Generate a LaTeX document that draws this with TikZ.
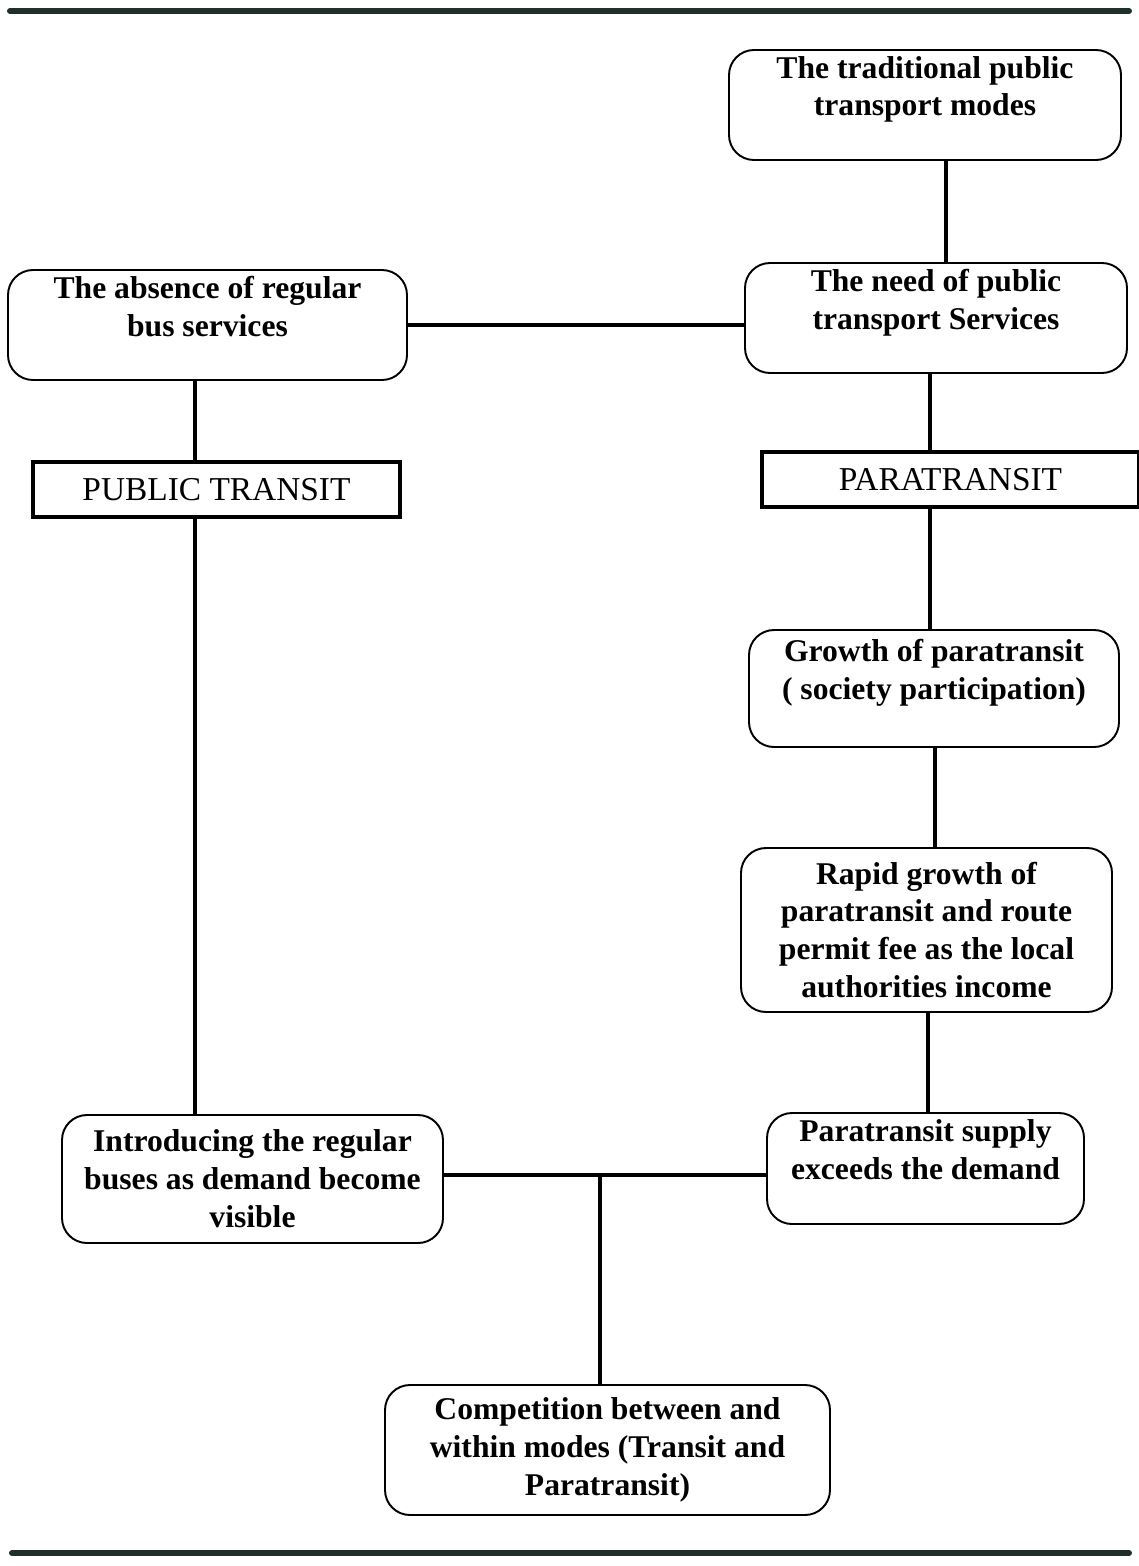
\documentclass[tikz,border=0pt]{standalone}
\usepackage{fontspec}
\setmainfont{Liberation Serif}
\usetikzlibrary{positioning}

\definecolor{ruleink}{RGB}{30,48,40}

\tikzset{
	stage/.style = {draw, rounded corners=0.5cm, line width=1.1pt, align=center,
		font=\fontsize{18}{21.6}\selectfont\bfseries, inner sep=0pt},
	modebox/.style = {draw, line width=2.2pt, inner sep=0pt,
		font=\fontsize{19}{22}\selectfont},
	link/.style = {line width=1.8pt},
	rule/.style = {line width=3.4pt, line cap=round, ruleink}
}

\begin{document}
\begin{tikzpicture}
	\useasboundingbox (0,0) rectangle (22.78,-31.32);
	
	% top and bottom rules
	\draw [rule] (0.2,-0.22) -- (22.58,-0.22);
	\draw [rule] (0.24,-31.06) -- (22.58,-31.06);
	
	% the boxes
	\node [stage, minimum width=7.84cm, minimum height=2.2cm] (trad) at (18.5,-2.1) {The traditional public\\transport modes\\~};
	\node [stage, minimum width=7.64cm, minimum height=2.2cm] (need) at (18.72,-6.36) {The need of public\\transport Services\\~};
	\node [stage, minimum width=7.98cm, minimum height=2.2cm] (absence) at (4.15,-6.5) {The absence of regular\\bus services\\~};
	\node [modebox, minimum width=7.34cm, minimum height=1.1cm] (pub) at (4.33,-9.79) {PUBLIC TRANSIT};
	\node [modebox, minimum width=7.54cm, minimum height=1.1cm] (para) at (19.01,-9.59) {PARATRANSIT};
	\node [stage, minimum width=7.4cm, minimum height=2.34cm] (growth) at (18.68,-13.77) {Growth of paratransit\\( society participation)\\~};
	\node [stage, minimum width=7.42cm, minimum height=3.28cm] (rapid) at (18.53,-18.6) {Rapid growth of\\paratransit and route\\permit fee as the local\\authorities income};
	\node [stage, minimum width=6.34cm, minimum height=2.22cm] (supply) at (18.51,-23.37) {Paratransit supply\\exceeds the demand\\~};
	\node [stage, minimum width=7.62cm, minimum height=2.56cm] (intro) at (5.05,-23.58) {Introducing the regular\\buses as demand become\\visible};
	\node [stage, minimum width=8.9cm, minimum height=2.6cm] (comp) at (12.15,-29.0) {Competition between and\\within modes (Transit and\\Paratransit)};
	
	% where the lines run
	\coordinate (lx) at (3.9,0);
	\coordinate (rxa) at (18.92,0);
	\coordinate (rxb) at (18.6,0);
	\coordinate (rxc) at (18.7,0);
	\coordinate (rxd) at (18.56,0);
	\coordinate (hy) at (0,-23.5);
	\coordinate (jn) at (12.0,-23.5);
	
	% connect them
	\draw [link] (trad.south -| rxa) -- (need.north -| rxa);
	\draw [link] (absence.east) -- (absence.east -| need.west);
	\draw [link] (absence.south -| lx) -- (pub.north -| lx);
	\draw [link] (pub.south -| lx) -- (intro.north -| lx);
	\draw [link] (need.south -| rxb) -- (para.north -| rxb);
	\draw [link] (para.south -| rxb) -- (growth.north -| rxb);
	\draw [link] (growth.south -| rxc) -- (rapid.north -| rxc);
	\draw [link] (rapid.south -| rxd) -- (supply.north -| rxd);
	\draw [link] (intro.east |- hy) -- (supply.west |- hy);
	\draw [link] (jn) -- (jn |- comp.north);
\end{tikzpicture}
\end{document}
